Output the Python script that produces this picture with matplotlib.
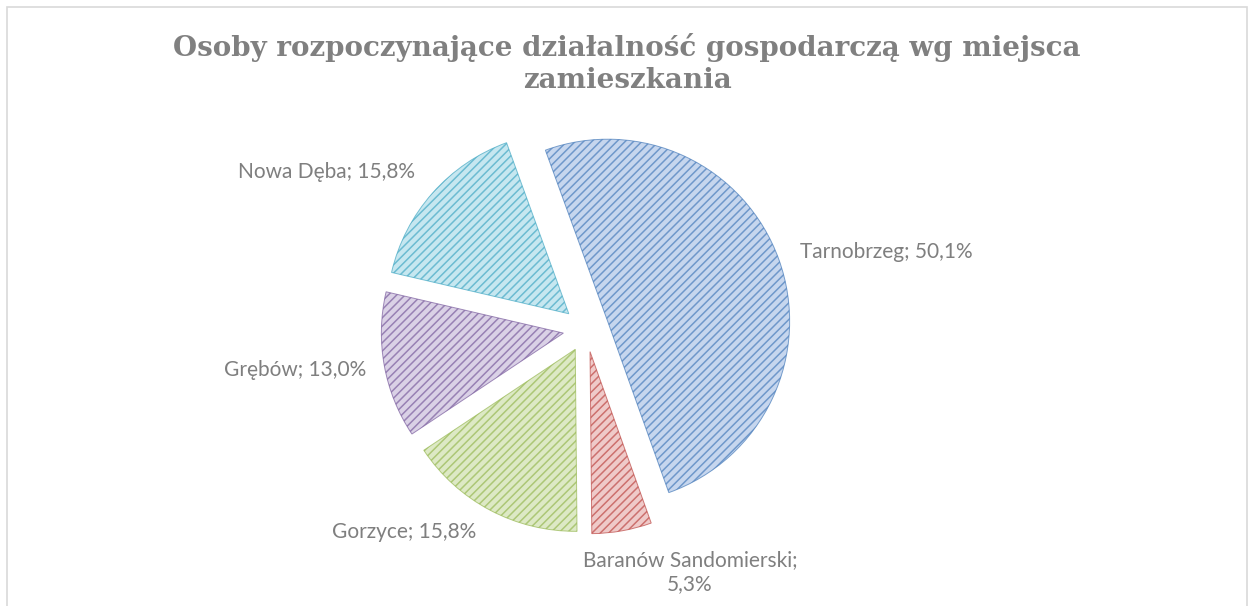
import numpy as np
import matplotlib
matplotlib.use("Agg")
import matplotlib.pyplot as plt
from matplotlib.patches import Rectangle

# data
miejsca = ["Tarnobrzeg", "Baranów Sandomierski", "Gorzyce", "Grębów", "Nowa Dęba"]
udzial = [50.1, 5.3, 15.8, 13.0, 15.8]

base_cols = ["#4F81BD", "#C0504D", "#9BBB59", "#8064A2", "#4BACC6"]
face_cols = ["#c6d6ee", "#efcac9", "#dde9c5", "#dad1e6", "#c6e7f0"]

plt.rcParams['hatch.linewidth'] = 1.1

W, H = 1254, 606
fig = plt.figure(figsize=(W / 100, H / 100), dpi=100)
ax = fig.add_axes([0, 0, 1, 1])

center = (586, H - 329)
radius = 182
wedges, _ = ax.pie(udzial, startangle=110, counterclock=False,
                   radius=radius, center=center, explode=[23] * len(udzial),
                   colors=face_cols)
for w, c in zip(wedges, base_cols):
    w.set_edgecolor(c + "bb")
    w.set_linewidth(0.7)
    w.set_hatch("////")

ax.set_xlim(0, W)
ax.set_ylim(0, H)
ax.set_aspect("equal")
ax.axis("off")

# labels (layout positions in px, y from top)
lab_pos = [(800, 252, "left"), (690, 572, "center"), (476, 532, "right"),
           (366, 370, "right"), (415, 172, "right")]
for name, v, (lx, ly, ha) in zip(miejsca, udzial, lab_pos):
    txt = f"{name}; {v:.1f}".replace(".", ",") + "%"
    if name == "Baranów Sandomierski":
        txt = txt.replace("; ", ";\n")
    ax.text(lx, H - ly, txt, ha=ha, va="center", fontsize=15,
            family="Lato", color="#7f7f7f", linespacing=1.3,
            multialignment="center")

# title
ax.text(627, H - 47, "Osoby rozpoczynające działalność gospodarczą wg miejsca",
        ha="center", va="center", fontsize=20, family="DejaVu Serif",
        weight="bold", color="#808080")
ax.text(627, H - 80, "zamieszkania", ha="center", va="center", fontsize=20,
        family="DejaVu Serif", weight="bold", color="#808080")

# chart frame
ax.add_patch(Rectangle((7, -10), W - 14, H - 7 + 10, fill=False,
                       edgecolor="#d9d9d9", linewidth=1.2))

fig.savefig("out.png", dpi=100)
